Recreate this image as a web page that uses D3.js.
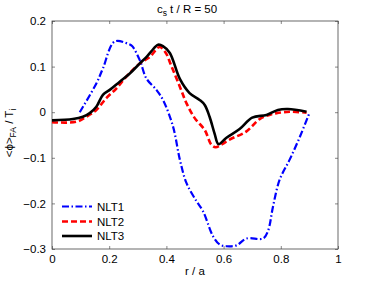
<!DOCTYPE html>
<html>
<head>
<meta charset="utf-8">
<script src="https://cdn.jsdelivr.net/npm/d3@7"></script>
<style>
body { margin: 0; background: #fff; }
svg { font-family: "Liberation Sans", Arial, sans-serif; }
</style>
</head>
<body>
<div class="canvas"></div>
<script>
var W = 374, H = 281;
var margin = {left: 52, right: 36, top: 21, bottom: 32};

var x_ticks = [0, 0.2, 0.4, 0.6, 0.8, 1];
var y_ticks = [-0.3, -0.2, -0.1, 0, 0.1, 0.2];

// NLT1 (blue, dash-dot)
var nlt1_r = [0.097, 0.155, 0.178, 0.219, 0.266, 0.28, 0.307, 0.33, 0.365, 0.388, 0.423, 0.447, 0.47, 0.505, 0.528, 0.563, 0.586, 0.61, 0.645, 0.68, 0.738, 0.755, 0.773, 0.796, 0.831, 0.866, 0.9];
var nlt1_v = [0.0, 0.063, 0.096, 0.155, 0.15, 0.145, 0.114, 0.074, 0.049, 0.027, -0.031, -0.104, -0.155, -0.195, -0.217, -0.272, -0.29, -0.294, -0.292, -0.277, -0.277, -0.261, -0.206, -0.148, -0.104, -0.055, -0.002];

// NLT2 (red, dashed)
var nlt2_r = [0.0, 0.085, 0.12, 0.155, 0.19, 0.225, 0.26, 0.307, 0.342, 0.376, 0.398, 0.415, 0.447, 0.47, 0.499, 0.534, 0.557, 0.572, 0.595, 0.621, 0.68, 0.726, 0.76, 0.785, 0.831, 0.89];
var nlt2_v = [-0.022, -0.021, -0.01, 0.005, 0.031, 0.052, 0.078, 0.107, 0.121, 0.143, 0.13, 0.105, 0.056, 0.02, -0.013, -0.039, -0.071, -0.077, -0.07, -0.06, -0.042, -0.015, -0.006, -0.002, 0.001, -0.001];

// NLT3 (black, solid)
var nlt3_r = [0.0, 0.073, 0.108, 0.132, 0.155, 0.178, 0.202, 0.237, 0.272, 0.307, 0.33, 0.348, 0.371, 0.388, 0.412, 0.447, 0.481, 0.516, 0.534, 0.551, 0.569, 0.582, 0.61, 0.656, 0.7, 0.75, 0.79, 0.825, 0.89];
var nlt3_v = [-0.018, -0.015, -0.01, -0.002, 0.012, 0.038, 0.049, 0.067, 0.085, 0.107, 0.121, 0.134, 0.148, 0.145, 0.13, 0.073, 0.042, 0.027, 0.016, -0.01, -0.048, -0.07, -0.056, -0.037, -0.012, -0.006, 0.005, 0.007, 0.001];

var series = [
	{name: 'NLT1', r: nlt1_r, v: nlt1_v, col: '#0000ff', dash: '7,2.5,1.5,2.5', w: 2.2},
	{name: 'NLT2', r: nlt2_r, v: nlt2_v, col: '#ff0000', dash: '6,3', w: 2.6},
	{name: 'NLT3', r: nlt3_r, v: nlt3_v, col: '#000000', dash: null, w: 2.6}
];

function fmt(t) {
	if (t == 0) return '0';
	var s = String(Math.abs(t));
	return (t < 0 ? '\u2212' : '') + s;
}

var svg = d3.select('div.canvas').append('svg').attr('width', W).attr('height', H);

var x = d3.scaleLinear().domain([0, 1]).range([margin.left, W - margin.right]);
var y = d3.scaleLinear().domain([-0.3, 0.2]).range([H - margin.bottom, margin.top]);

var x0 = x(0), x1 = x(1), y0 = y(-0.3), y1 = y(0.2);

// axes with inward ticks
var tick_len = 3;
svg.append('g').attr('transform', 'translate(0,' + y0 + ')')
	.call(d3.axisBottom(x).tickValues(x_ticks).tickSize(-tick_len).tickPadding(6).tickFormat(fmt));
svg.append('g').attr('transform', 'translate(0,' + y1 + ')')
	.call(d3.axisTop(x).tickValues(x_ticks).tickSize(-tick_len).tickFormat(''));
svg.append('g').attr('transform', 'translate(' + x0 + ',0)')
	.call(d3.axisLeft(y).tickValues(y_ticks).tickSize(-tick_len).tickPadding(6).tickFormat(fmt));
svg.append('g').attr('transform', 'translate(' + x1 + ',0)')
	.call(d3.axisRight(y).tickValues(y_ticks).tickSize(-tick_len).tickFormat(''));

svg.selectAll('.domain').remove();
svg.selectAll('.tick line').attr('stroke', '#555').attr('stroke-width', 0.7);
svg.selectAll('.tick text').attr('font-size', 11.5).attr('fill', '#000')
	.style('font-family', '"Liberation Sans", Arial, sans-serif');

svg.append('rect').attr('x', x0).attr('y', y1).attr('width', x1 - x0).attr('height', y0 - y1)
	.attr('fill', 'none').attr('stroke', '#444').attr('stroke-width', 0.8);

var line = d3.line().x(function(d) { return x(d[0]); }).y(function(d) { return y(d[1]); })
	.curve(d3.curveCatmullRom.alpha(0.5));

series.forEach(function(s) {
	var pts = s.r.map(function(r, i) { return [r, s.v[i]]; });
	var p = svg.append('path').datum(pts).attr('d', line)
		.attr('fill', 'none').attr('stroke', s.col).attr('stroke-width', s.w)
		.attr('stroke-linejoin', 'round');
	if (s.dash) p.attr('stroke-dasharray', s.dash);
});

// legend
var leg_y = [206.5, 221.5, 236];
series.forEach(function(s, i) {
	var l = svg.append('line').attr('x1', 62).attr('x2', 92).attr('y1', leg_y[i]).attr('y2', leg_y[i])
		.attr('stroke', s.col).attr('stroke-width', s.w);
	if (s.dash) l.attr('stroke-dasharray', s.dash);
	svg.append('text').attr('x', 97).attr('y', leg_y[i] + 4).attr('font-size', 11.5).text(s.name);
});

// title
var title = svg.append('text').attr('x', (x0 + x1) / 2 - 8).attr('y', 13).attr('text-anchor', 'middle').attr('font-size', 11.5);
title.append('tspan').text('c');
title.append('tspan').attr('font-size', 8.5).attr('dy', 3).text('s');
title.append('tspan').attr('dy', -3).text(' t / R = 50');

// x label
svg.append('text').attr('x', (x0 + x1) / 2).attr('y', 275).attr('text-anchor', 'middle').attr('font-size', 11.5).text('r / a');

// y label
var yl = svg.append('text').attr('transform', 'translate(13,' + ((y0 + y1) / 2 - 2) + ') rotate(-90)')
	.attr('text-anchor', 'middle').attr('font-size', 11.5);
yl.append('tspan').text('<\u03d5>');
yl.append('tspan').attr('font-size', 8.5).attr('dy', 3).text('FA');
yl.append('tspan').attr('dy', -3).text(' / T');
yl.append('tspan').attr('font-size', 8.5).attr('dy', 3).text('i');
</script>
</body>
</html>
